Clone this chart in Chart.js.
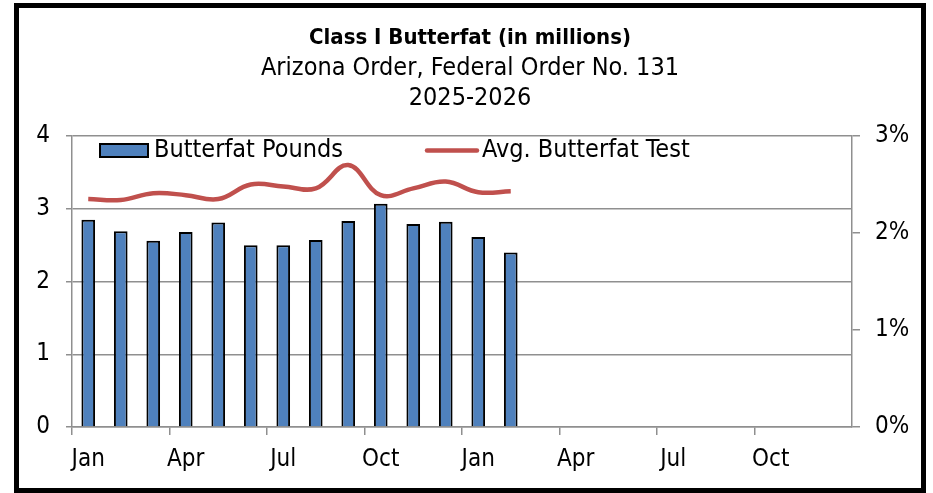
<!DOCTYPE html>
<html>
<head>
<meta charset="utf-8">
<script src="https://cdn.jsdelivr.net/npm/chart.js@4.4.1/dist/chart.umd.min.js"></script>
<style>
    body { margin: 0; background: #fff; }
    #frame {
        position: absolute;
        left: 14px;
        top: 3px;
        width: 902px;
        height: 480px;
        border: 5px solid #000;
    }
</style>
</head>
<body>
<div id="frame">
    <canvas id="butterfatChart" width="902" height="480"></canvas>
</div>
<script>
// Class I butterfat, Arizona order 131, Jan 2025 - Dec 2026

const months = ["Jan", "Feb", "Mar", "Apr", "May", "Jun", "Jul", "Aug", "Sep", "Oct", "Nov", "Dec",
                "Jan", "Feb", "Mar", "Apr", "May", "Jun", "Jul", "Aug", "Sep", "Oct", "Nov", "Dec"];

// millions of pounds
const butterfatPounds = [2.85, 2.69, 2.56, 2.68, 2.81, 2.50, 2.50, 2.57, 2.83, 3.07, 2.79, 2.82, 2.61, 2.40];

// percent
const avgButterfatTest = [2.35, 2.34, 2.41, 2.39, 2.35, 2.50, 2.48, 2.46, 2.70, 2.39, 2.46, 2.53, 2.42, 2.43];

const leftTicks = [0, 1, 2, 3, 4];
const rightTicks = [0, 1, 2, 3];

const FONT = "'DejaVu Sans Condensed', 'Liberation Sans Narrow', 'DejaVu Sans', sans-serif";
const GRID = "#8f8f8f";

// legend sits inside the plot area, like the Excel original
const insideLegend = {
    id: "insideLegend",
    afterDraw(chart) {
        const { ctx, chartArea } = chart;
        const bars = chart.data.datasets[0];
        const line = chart.data.datasets[1];
        const x0 = chartArea.left;
        const yMid = chartArea.top + 14.5;

        ctx.save();
        ctx.font = "25px " + FONT;
        ctx.textBaseline = "middle";

        ctx.fillStyle = bars.backgroundColor;
        ctx.fillRect(x0 + 28, yMid - 6.5, 48, 13);
        ctx.lineWidth = 2;
        ctx.strokeStyle = bars.borderColor;
        ctx.strokeRect(x0 + 28, yMid - 6.5, 48, 13);
        ctx.fillStyle = "#000";
        ctx.fillText(bars.label, x0 + 82, yMid);

        ctx.beginPath();
        ctx.lineCap = "round";
        ctx.lineWidth = line.borderWidth;
        ctx.strokeStyle = line.borderColor;
        ctx.moveTo(x0 + 355, yMid);
        ctx.lineTo(x0 + 405, yMid);
        ctx.stroke();
        ctx.fillText(line.label, x0 + 410, yMid);
        ctx.restore();
    }
};

const ctx = document.getElementById("butterfatChart").getContext("2d");

new Chart(ctx, {
    data: {
        labels: months,
        datasets: [
            {
                type: "bar",
                label: "Butterfat Pounds",
                data: butterfatPounds,
                backgroundColor: "#4f81bd",
                borderColor: "#000",
                borderWidth: 2,
                barPercentage: 0.42,
                categoryPercentage: 1,
                yAxisID: "y",
                order: 2,
            },
            {
                type: "line",
                label: "Avg. Butterfat Test",
                data: avgButterfatTest,
                borderColor: "#c0504d",
                borderWidth: 4.5,
                pointRadius: 0,
                tension: 0.4,
                fill: false,
                yAxisID: "y1",
                order: 1,
            },
        ],
    },
    options: {
        responsive: false,
        animation: false,
        layout: { padding: 0 },
        plugins: {
            legend: { display: false },
            tooltip: { enabled: false },
            title: {
                display: true,
                text: "Class I Butterfat (in millions)",
                color: "#000",
                font: { family: FONT, size: 22, weight: "bold", lineHeight: "24px" },
                padding: { top: 18, bottom: 3 },
            },
            subtitle: {
                display: true,
                text: ["Arizona Order, Federal Order No. 131", "2025-2026"],
                color: "#000",
                font: { family: FONT, size: 25, lineHeight: "30px" },
                padding: { top: 0, bottom: 23 },
            },
        },
        scales: {
            x: {
                offset: true,
                grid: {
                    offset: true,
                    drawOnChartArea: false,
                    tickLength: 8,
                    lineWidth: 1.5,
                    color: c => (c.index % 3 === 0 ? GRID : "transparent"),
                },
                border: { color: GRID, width: 1.5 },
                ticks: {
                    autoSkip: false,
                    maxRotation: 0,
                    padding: 10,
                    color: "#000",
                    font: { family: FONT, size: 24 },
                    callback: function (value, index) {
                        return index % 3 === 0 ? this.getLabelForValue(value) : "";
                    },
                },
                afterFit: s => { s.height = 61; },
            },
            y: {
                position: "left",
                min: leftTicks[0],
                max: leftTicks[leftTicks.length - 1],
                ticks: {
                    stepSize: 1,
                    padding: 16,
                    color: "#000",
                    font: { family: FONT, size: 24 },
                },
                grid: { color: GRID, lineWidth: 1.5, tickLength: 6 },
                border: { color: GRID, width: 1.5 },
                afterFit: s => { s.width = 53; },
            },
            y1: {
                position: "right",
                min: rightTicks[0],
                max: rightTicks[rightTicks.length - 1],
                ticks: {
                    stepSize: 1,
                    padding: 15,
                    color: "#000",
                    font: { family: FONT, size: 24 },
                    callback: v => v + "%",
                },
                grid: { drawOnChartArea: false, color: GRID, lineWidth: 1.5, tickLength: 8 },
                border: { color: GRID, width: 1.5 },
                afterFit: s => { s.width = 69; },
            },
        },
    },
    plugins: [insideLegend],
});
</script>
</body>
</html>
